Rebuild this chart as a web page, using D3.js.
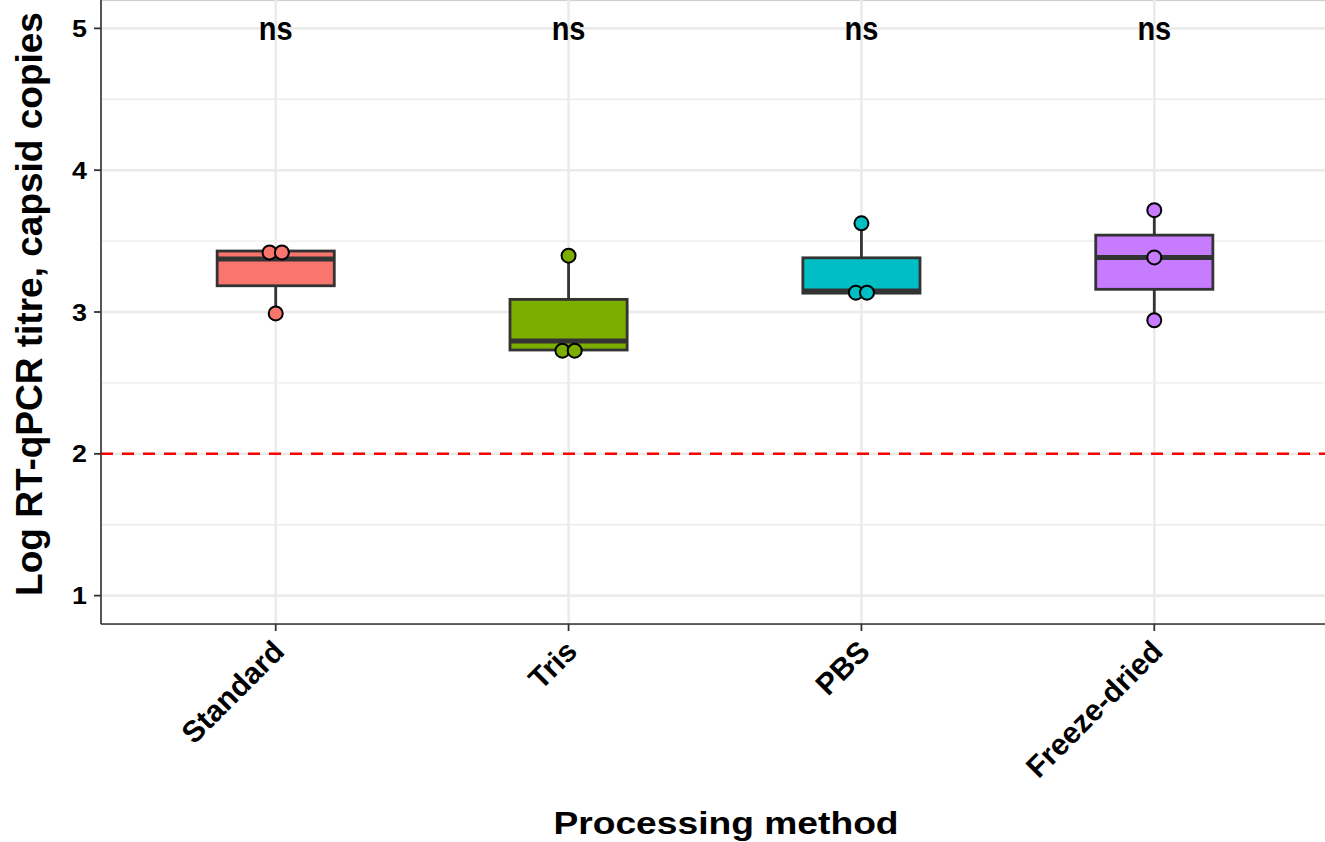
<!DOCTYPE html>
<html>
<head>
<meta charset="utf-8">
<script src="https://cdn.jsdelivr.net/npm/d3@7"></script>
<style>
  html, body { margin: 0; padding: 0; background: #fff; }
  svg { display: block; font-family: "Liberation Sans", Arial, Helvetica, sans-serif; }
</style>
</head>
<body>
<svg id="chart" width="1325" height="842"></svg>
<script>
// ---- data ----
const categories = ["Standard", "Tris", "PBS", "Freeze-dried"];
const fillColors = ["#F8766D", "#7CAE00", "#00BFC4", "#C77CFF"];
// box statistics
const whiskerLow  = [2.99, 2.727, 3.133, 2.942];
const q1          = [3.185, 2.732, 3.133, 3.160];
const medians     = [3.373, 2.796, 3.148, 3.385];
const q3          = [3.430, 3.089, 3.382, 3.542];
const whiskerHigh = [3.430, 3.397, 3.625, 3.718];
// individual points: category index, value, small horizontal dodge (category units)
const pointCat    = [0, 0, 0, 1, 1, 1, 2, 2, 2, 3, 3, 3];
const pointValue  = [3.42, 3.42, 2.99, 3.397, 2.727, 2.727, 3.625, 3.136, 3.136, 3.718, 3.385, 2.942];
const pointDodge  = [-0.021, 0.021, 0, 0, -0.021, 0.021, 0, -0.019, 0.019, 0, 0, 0];
const sigLabels   = ["ns", "ns", "ns", "ns"];
const sigLevel    = 4.92;
const yTicks      = [1, 2, 3, 4, 5];
const yMinorTicks = [1.5, 2.5, 3.5, 4.5];
const thresholdValue = 2;
const yTitle = "Log RT-qPCR titre, capsid copies";
const xTitle = "Processing method";

// ---- layout ----
const svg = d3.select("#chart");
const panel = { left: 101, top: 0, right: 1331, bottom: 624 };

const x = d3.scalePoint().domain(categories).range([100, 1330]).padding(0.6);
const step = x.step();
const y = d3.scaleLinear().domain([0.8, 5.2]).range([panel.bottom, panel.top]);

// panel background + light border
svg.append("rect")
  .attr("x", panel.left).attr("y", panel.top + 0.5)
  .attr("width", panel.right - panel.left).attr("height", panel.bottom - panel.top)
  .attr("fill", "#fff").attr("stroke", "#d0d0d0").attr("stroke-width", 1.2);

// grid
const grid = svg.append("g");
grid.selectAll("line.minor").data(yMinorTicks).join("line")
  .attr("x1", panel.left).attr("x2", panel.right)
  .attr("y1", d => y(d)).attr("y2", d => y(d))
  .attr("stroke", "#ebebeb").attr("stroke-width", 1.3);
grid.selectAll("line.major").data(yTicks).join("line")
  .attr("x1", panel.left).attr("x2", panel.right)
  .attr("y1", d => y(d)).attr("y2", d => y(d))
  .attr("stroke", "#ebebeb").attr("stroke-width", 2.6);
grid.selectAll("line.vmajor").data(categories).join("line")
  .attr("x1", d => x(d)).attr("x2", d => x(d))
  .attr("y1", panel.top).attr("y2", panel.bottom)
  .attr("stroke", "#ebebeb").attr("stroke-width", 2.6);

// threshold line
svg.append("line")
  .attr("x1", panel.left).attr("x2", panel.right)
  .attr("y1", y(thresholdValue)).attr("y2", y(thresholdValue))
  .attr("stroke", "#ff0000").attr("stroke-width", 2.5)
  .attr("stroke-dasharray", "12,9");

// boxplots
const boxW = step * 0.4;
const lineCol = "#333333";
const boxes = svg.append("g").selectAll("g").data(categories).join("g");
boxes.append("line")
  .attr("x1", d => x(d)).attr("x2", d => x(d))
  .attr("y1", (d, i) => y(whiskerHigh[i])).attr("y2", (d, i) => y(q3[i]))
  .attr("stroke", lineCol).attr("stroke-width", 2.8);
boxes.append("line")
  .attr("x1", d => x(d)).attr("x2", d => x(d))
  .attr("y1", (d, i) => y(q1[i])).attr("y2", (d, i) => y(whiskerLow[i]))
  .attr("stroke", lineCol).attr("stroke-width", 2.8);
boxes.append("rect")
  .attr("x", d => x(d) - boxW / 2).attr("width", boxW)
  .attr("y", (d, i) => y(q3[i])).attr("height", (d, i) => y(q1[i]) - y(q3[i]))
  .attr("fill", (d, i) => fillColors[i])
  .attr("stroke", lineCol).attr("stroke-width", 2.8);
boxes.append("line")
  .attr("x1", d => x(d) - boxW / 2).attr("x2", d => x(d) + boxW / 2)
  .attr("y1", (d, i) => y(medians[i])).attr("y2", (d, i) => y(medians[i]))
  .attr("stroke", lineCol).attr("stroke-width", 5);

// points
svg.append("g").selectAll("circle").data(pointValue).join("circle")
  .attr("cx", (d, i) => x(categories[pointCat[i]]) + pointDodge[i] * step)
  .attr("cy", d => y(d))
  .attr("r", 7)
  .attr("fill", (d, i) => fillColors[pointCat[i]])
  .attr("stroke", "#000").attr("stroke-width", 2);

// significance labels
svg.append("g").selectAll("text").data(sigLabels).join("text")
  .attr("transform", (d, i) => `translate(${x(categories[i])},${y(sigLevel) + 0.5}) scale(1,1.12)`)
  .attr("text-anchor", "middle")
  .attr("font-weight", "bold").attr("font-size", 29)
  .attr("fill", "#000")
  .text(d => d);

// axes lines
svg.append("line").attr("x1", panel.left).attr("x2", panel.left)
  .attr("y1", panel.top).attr("y2", panel.bottom)
  .attr("stroke", "#333").attr("stroke-width", 1.6);
svg.append("line").attr("x1", panel.left).attr("x2", panel.right)
  .attr("y1", panel.bottom).attr("y2", panel.bottom)
  .attr("stroke", "#333").attr("stroke-width", 1.6);

// y axis ticks + labels
const yAxis = svg.append("g");
yAxis.selectAll("line").data(yTicks).join("line")
  .attr("x1", panel.left - 7).attr("x2", panel.left)
  .attr("y1", d => y(d)).attr("y2", d => y(d))
  .attr("stroke", "#333").attr("stroke-width", 1.8);
yAxis.selectAll("text").data(yTicks).join("text")
  .attr("transform", d => `translate(${panel.left - 14},${y(d)}) scale(1.12,1)`)
  .attr("dy", "0.36em")
  .attr("text-anchor", "end")
  .attr("font-weight", "bold").attr("font-size", 24)
  .attr("fill", "#000")
  .text(d => d);

// x axis ticks + labels
const xAxis = svg.append("g");
xAxis.selectAll("line").data(categories).join("line")
  .attr("x1", d => x(d)).attr("x2", d => x(d))
  .attr("y1", panel.bottom).attr("y2", panel.bottom + 7)
  .attr("stroke", "#333").attr("stroke-width", 1.8);
xAxis.selectAll("text").data(categories).join("text")
  .attr("transform", d => `translate(${x(d) - 5},${panel.bottom + 14}) rotate(-45)`)
  .attr("dy", "0.72em")
  .attr("text-anchor", "end")
  .attr("font-weight", "bold").attr("font-size", 30)
  .attr("fill", "#000")
  .text(d => d);

// titles
svg.append("text")
  .attr("transform", `translate(726,834) scale(1.2,1)`)
  .attr("text-anchor", "middle")
  .attr("font-weight", "bold").attr("font-size", 31)
  .attr("fill", "#000")
  .text(xTitle);
svg.append("text")
  .attr("transform", `translate(42,304) rotate(-90)`)
  .attr("text-anchor", "middle")
  .attr("font-weight", "bold").attr("font-size", 37)
  .attr("fill", "#000")
  .text(yTitle);
</script>
</body>
</html>
